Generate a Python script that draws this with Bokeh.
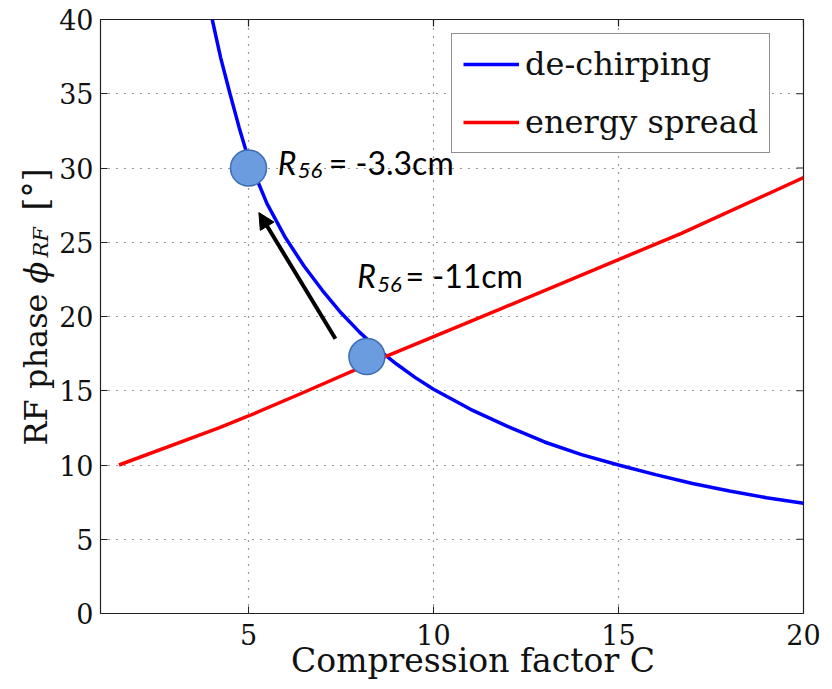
import math
from bokeh.plotting import figure
from bokeh.layouts import row
from bokeh.models import (Range1d, Label, Arrow, NormalHead, FixedTicker,
                          Legend, LegendItem)
from bokeh.core.properties import value
from bokeh.embed import file_html
from bokeh.resources import INLINE

# ---- data ----
dechirp_C = [4.02, 4.25, 4.5, 4.75, 5.0, 5.5, 6.0, 6.5, 7.0, 7.5, 8.0, 8.5, 9.0, 9.5,
             10, 11, 12, 13, 14, 15, 16, 17, 18, 19, 20]
dechirp_phi = [40.0, 37.4, 35.0, 32.7, 30.6, 27.6, 25.3, 23.4, 21.75, 20.25, 18.95, 17.8,
               16.8, 15.9, 15.1, 13.75, 12.6, 11.55, 10.7, 10.0, 9.35, 8.75, 8.25, 7.8, 7.43]

espread_C = [1.5, 4.2, 5.0, 6.5, 8.7, 11.8, 16.7, 20.0]
espread_phi = [10.0, 12.5, 13.3, 14.9, 17.3, 20.5, 25.6, 29.35]

marker_C = [5.0, 8.2]
marker_phi = [30.0, 17.3]
marker_R56 = ["= -3.3cm", "= -11cm"]

arrow_from = (7.35, 18.5)
arrow_to = (5.28, 27.0)

x_ticks = [5, 10, 15, 20]
y_ticks = [0, 5, 10, 15, 20, 25, 30, 35, 40]
x_lo, x_hi = 1, 20
y_lo, y_hi = 0, 40

SERIF = "DejaVu Serif"
SANS = "Lato"
INK = "#111111"
FRAME = "#222222"

# ---------------- main plot ----------------
p = figure(width=777, height=689, x_range=Range1d(x_lo, x_hi), y_range=Range1d(y_lo, y_hi),
           output_backend="svg", toolbar_location=None,
           min_border_left=45, min_border_right=29, min_border_top=19, min_border_bottom=76)
p.background_fill_color = "white"
p.border_fill_color = "white"
p.outline_line_color = FRAME
p.outline_line_width = 1.2

for ax, tk in ((p.xaxis[0], x_ticks), (p.yaxis[0], y_ticks)):
    ax.ticker = FixedTicker(ticks=tk)
    ax.major_tick_in = 7
    ax.major_tick_out = 0
    ax.minor_tick_line_color = None
    ax.axis_line_color = FRAME
    ax.major_tick_line_color = FRAME
    ax.major_label_text_font = SERIF
    ax.major_label_text_font_size = "27px"
    ax.major_label_text_color = INK
p.xaxis.major_label_standoff = 10
p.yaxis.major_label_standoff = 7

p.xaxis.axis_label = "\u00a0\u00a0\u00a0\u00a0Compression factor C"
p.xaxis.axis_label_text_font = SERIF
p.xaxis.axis_label_text_font_style = "normal"
p.xaxis.axis_label_text_font_size = "33px"
p.xaxis.axis_label_text_color = INK
p.xaxis.axis_label_standoff = -7

p.xgrid.ticker = FixedTicker(ticks=x_ticks)
p.ygrid.ticker = FixedTicker(ticks=y_ticks)
for g in (p.xgrid[0], p.ygrid[0]):
    g.grid_line_dash = "1 7"
    g.grid_line_color = "#333333"
    g.grid_line_width = 1.2

# inward ticks on the top and right edges (half of each dash is clipped by the frame)
p.scatter(x_ticks, [y_hi] * len(x_ticks), marker="dash", angle=math.pi / 2, size=14,
          line_color=FRAME, line_width=1.2)
p.scatter([x_hi] * len(y_ticks), y_ticks, marker="dash", size=14,
          line_color=FRAME, line_width=1.2)

blue = p.line(dechirp_C, dechirp_phi, line_color="#0000ff", line_width=3.5)
red = p.line(espread_C, espread_phi, line_color="#ff0000", line_width=3.5)

p.add_layout(Arrow(x_start=arrow_from[0], y_start=arrow_from[1],
                   x_end=arrow_to[0], y_end=arrow_to[1], line_width=4, line_color="black",
                   end=NormalHead(size=16, fill_color="black", line_color="black")))

p.scatter(marker_C, marker_phi, size=36, fill_color="#6b9ce0", line_color="#3d6db3",
          line_width=1.5)

# R56 annotations (offsets in screen px from each marker)
offs = [dict(r=(29.3, 5.5), s=(49.3, -2.8), t=(80.3, 5.5)),
        dict(r=(-9.7, 80.8), s=(10.3, 72.4), t=(38.6, 80.8))]
for c, ph, txt, o in zip(marker_C, marker_phi, marker_R56, offs):
    p.add_layout(Label(x=c, y=ph, x_offset=o["r"][0], y_offset=o["r"][1], text="R",
                       text_font=SANS, text_font_style="italic", text_font_size="32px",
                       text_baseline="alphabetic", text_align="left", text_color="black"))
    p.add_layout(Label(x=c, y=ph, x_offset=o["s"][0], y_offset=o["s"][1], text="56",
                       text_font=SANS, text_font_style="italic", text_font_size="22px",
                       text_baseline="alphabetic", text_align="left", text_color="black"))
    p.add_layout(Label(x=c, y=ph, x_offset=o["t"][0], y_offset=o["t"][1], text=txt,
                       text_font=SANS, text_font_size="32px",
                       text_baseline="alphabetic", text_align="left", text_color="black"))

legend = Legend(items=[LegendItem(label="de-chirping", renderers=[blue]),
                       LegendItem(label="energy spread", renderers=[red])],
                location=(351, 460))
legend.label_text_font = SERIF
legend.label_text_font_size = "32px"
legend.label_text_color = INK
legend.glyph_width = 56
legend.glyph_height = 30
legend.label_standoff = 6
legend.padding = 11
legend.spacing = 20
legend.margin = 0
legend.border_line_color = FRAME
legend.border_line_width = 1
legend.background_fill_alpha = 1.0
p.add_layout(legend)

# ---------------- y-axis title strip ----------------
# Its frame is aligned with the main frame (screen y 19..613), so the range is set
# so that a value v sits at screen y = H - v.
H = 689
yl = figure(width=55, height=H, x_range=Range1d(0, 55), y_range=Range1d(H - 613, H - 19),
            output_backend="svg", toolbar_location=None, x_axis_type=None, y_axis_type=None,
            min_border=0, title=None)
yl.outline_line_color = None
yl.grid.visible = False
yl.background_fill_color = "white"
yl.border_fill_color = "white"

ylab_parts = ["RF phase", "\u03d5", "RF", "[\u00b0]"]
ylab_start = [445, 283, 257, 210]          # screen y where each piece begins
ylab_size = ["32px", "32px", "21px", "33px"]
ylab_style = ["normal", "italic", "italic", "normal"]
ylab_dx = [0, 0, 5, 0]
for t, s, fs, st, dx in zip(ylab_parts, ylab_start, ylab_size, ylab_style, ylab_dx):
    yl.text(x=[35 + dx], y=[H - s], text=[t], angle=math.pi / 2, text_align="left",
            text_baseline="middle", text_font=value(SERIF), text_font_size=fs,
            text_font_style=st, text_color=INK)

layout = row(yl, p)
open("out.html", "w").write(file_html(layout, INLINE))
